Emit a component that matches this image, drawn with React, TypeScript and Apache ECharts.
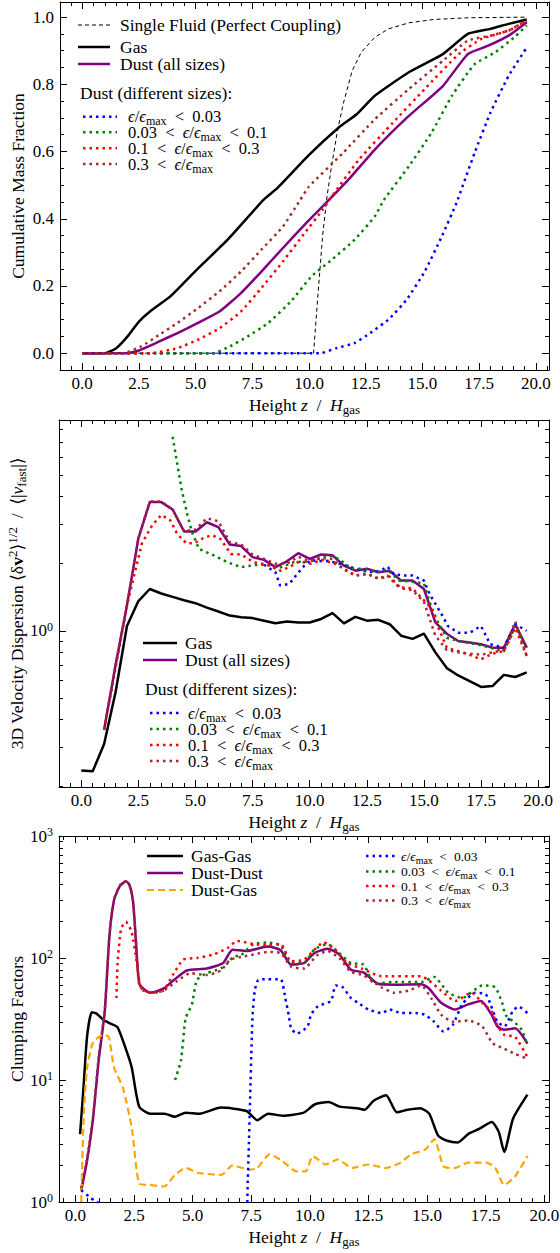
import React, { useEffect, useRef } from "react";
import * as echarts from "echarts";

const FONT = '"Liberation Serif", "DejaVu Serif", serif';
const BLACK = "#000000";
const PURPLE = "#800080";
const BLUE = "#0000ff";
const GREEN = "#008000";
const RED = "#ff0000";
const BROWN = "#a52a2a";
const ORANGE = "#ffa500";

type P = [number, number][];

// ---------------- Panel 1: cumulative mass fraction ----------------
const cumSingleFluid: P = [[0,0],[10.2,0],[10.4,0.18],[10.6,0.35],[10.8,0.47],[11.0,0.56],[11.25,0.66],[11.5,0.74],[11.9,0.84],[12.3,0.895],[12.9,0.94],[13.5,0.965],[14.4,0.983],[15.5,0.993],[17.0,0.998],[19.6,1.0]];
const cumGas: P = [[0,0],[1.0,0],[1.5,0.015],[2.0,0.05],[2.5,0.094],[3.0,0.125],[3.9,0.17],[5.0,0.245],[6.4,0.337],[8.0,0.457],[8.6,0.491],[10.0,0.59],[11.3,0.671],[12.1,0.711],[12.9,0.766],[14.4,0.836],[15.9,0.89],[17.0,0.95],[18.0,0.965],[18.8,0.98],[19.6,0.993]];
const cumDust: P = [[0,0],[2.0,0],[2.5,0.008],[3.4,0.035],[4.2,0.06],[5.1,0.09],[6.05,0.124],[7.0,0.179],[7.9,0.243],[8.85,0.313],[9.8,0.382],[10.6,0.437],[11.8,0.521],[12.9,0.606],[14.4,0.706],[15.9,0.795],[17.0,0.89],[17.9,0.915],[18.8,0.945],[19.6,0.985]];
const cumBlue: P = [[0,0],[10.5,0],[11.2,0.015],[12.0,0.03],[12.7,0.06],[13.5,0.1],[14.3,0.159],[15.1,0.243],[15.85,0.347],[16.5,0.447],[17.3,0.596],[18.0,0.716],[18.8,0.825],[19.6,0.91]];
const cumGreen: P = [[0,0],[5.8,0],[6.5,0.02],[7.3,0.05],[8.2,0.09],[9.2,0.154],[10.1,0.228],[11.0,0.278],[12.0,0.337],[12.9,0.407],[13.3,0.456],[14.4,0.556],[15.4,0.656],[16.3,0.766],[17.3,0.86],[18.2,0.895],[19.05,0.94],[19.6,0.975]];
const cumRed: P = [[0,0],[3.0,0],[4.2,0.015],[5.1,0.04],[6.05,0.074],[7.0,0.124],[7.9,0.194],[8.85,0.273],[9.8,0.357],[10.6,0.427],[11.0,0.466],[12.2,0.576],[13.7,0.686],[15.1,0.786],[16.6,0.89],[17.6,0.935],[18.8,0.96],[19.6,0.99]];
const cumBrown: P = [[0,0],[1.8,0],[2.6,0.02],[3.4,0.055],[4.2,0.09],[5.1,0.134],[6.05,0.184],[7.0,0.243],[7.9,0.308],[8.85,0.377],[9.6,0.455],[10.0,0.496],[11.5,0.596],[12.9,0.696],[14.4,0.786],[15.9,0.87],[17.0,0.93],[18.0,0.945],[18.8,0.96],[19.6,0.99]];

// ---------------- Panel 2: velocity dispersion ----------------
const velGas: P = [[0,0.236],[0.5,0.234],[1.0,0.31],[1.5,0.53],[2.0,1.05],[2.5,1.36],[3.0,1.54],[3.5,1.47],[4.0,1.42],[4.5,1.37],[5.0,1.33],[5.5,1.27],[6.0,1.22],[6.5,1.17],[7.0,1.15],[7.5,1.14],[8.0,1.11],[8.5,1.08],[9.0,1.10],[9.5,1.09],[10.0,1.09],[10.5,1.13],[11.0,1.20],[11.5,1.08],[12.0,1.155],[12.5,1.11],[13.0,1.12],[13.5,1.07],[14.0,0.95],[14.5,0.92],[15.0,0.97],[15.5,0.80],[16.0,0.68],[16.5,0.63],[17.0,0.595],[17.5,0.56],[18.0,0.565],[18.5,0.634],[19.0,0.62],[19.5,0.65]];
const velDust: P = [[1.0,0.36],[1.5,0.7],[2.0,1.3],[2.5,2.6],[3.0,3.78],[3.5,3.78],[4.0,3.5],[4.5,2.79],[5.0,2.79],[5.5,3.07],[6.0,2.92],[6.5,2.44],[7.0,2.40],[7.5,2.14],[8.0,2.08],[8.5,1.93],[9.0,2.05],[9.5,2.23],[10.0,2.1],[10.5,2.2],[11.0,2.18],[11.5,1.96],[12.0,1.86],[12.5,1.9],[13.0,1.83],[13.5,1.86],[14.0,1.68],[14.5,1.68],[15.0,1.54],[15.5,1.09],[16.0,0.97],[16.5,0.90],[17.0,0.885],[17.5,0.87],[18.0,0.84],[18.5,0.84],[19.0,1.07],[19.5,0.84]];
const velBlue: P = [[8.0,1.98],[8.5,1.83],[8.7,1.6],[9.1,1.62],[9.4,1.77],[9.7,1.93],[10.05,2.08],[10.35,2.05],[10.8,2.06],[11.3,2.0],[11.8,1.93],[12.3,1.86],[12.8,1.83],[13.1,1.86],[13.4,1.94],[13.7,1.79],[14.15,1.77],[14.5,1.77],[15.0,1.68],[15.25,1.46],[15.6,1.27],[15.85,1.15],[16.05,1.05],[16.5,0.98],[17.0,0.98],[17.5,1.05],[17.9,0.87],[18.5,0.84],[19.0,1.07],[19.5,1.0]];
const velGreen: P = [[4.0,7.43],[4.2,5.63],[4.4,4.27],[4.65,3.3],[4.85,2.77],[5.15,2.33],[5.8,2.18],[6.4,2.03],[7.0,1.93],[7.55,1.97],[8.15,1.98],[8.6,1.9],[8.75,1.93],[9.3,2.03],[10.05,2.05],[10.8,2.18],[11.3,2.1],[11.8,1.9],[12.3,1.9],[12.9,1.83],[13.4,1.88],[13.9,1.68],[14.5,1.66],[15.0,1.63],[15.3,1.3],[15.6,1.1],[16.0,0.93],[16.5,0.9],[17.5,0.86],[18.5,0.81],[19.0,1.05],[19.5,0.84]];
const velRed: P = [[1.0,0.36],[1.5,0.68],[2.0,1.3],[2.65,2.46],[3.1,2.97],[3.5,3.31],[3.9,3.13],[4.2,2.72],[4.6,2.47],[4.95,2.47],[5.4,2.63],[5.75,2.68],[6.1,2.58],[6.55,2.21],[7.0,2.2],[7.55,2.03],[8.15,1.98],[8.6,1.88],[8.75,1.86],[9.3,1.98],[9.55,2.05],[10.05,2.0],[10.55,2.08],[11.1,2.0],[11.5,1.9],[12.0,1.77],[12.55,1.8],[13.0,1.71],[13.4,1.77],[13.9,1.57],[14.5,1.55],[15.0,1.37],[15.3,1.27],[15.6,1.05],[16.0,0.84],[16.5,0.81],[17.0,0.78],[17.5,0.745],[18.0,0.79],[18.5,0.81],[19.0,1.03],[19.5,0.77]];
const velBrown: P = [[1.0,0.36],[1.5,0.7],[2.0,1.3],[2.5,2.6],[3.0,3.8],[3.5,3.8],[4.0,3.5],[4.5,2.8],[5.0,2.85],[5.5,3.2],[6.0,3.1],[6.5,2.5],[7.0,2.44],[7.5,2.2],[8.0,2.1],[8.5,2.0],[9.0,2.0],[9.5,2.15],[10.0,2.05],[10.5,2.12],[11.0,2.1],[11.5,1.88],[12.0,1.77],[12.5,1.8],[13.0,1.72],[13.5,1.75],[14.0,1.55],[14.5,1.52],[15.0,1.35],[15.5,0.95],[16.0,0.82],[16.5,0.8],[17.0,0.79],[17.5,0.78],[18.0,0.8],[18.5,0.82],[19.0,1.1],[19.5,0.77]];

// ---------------- Panel 3: clumping factors ----------------
const clumpGas: P = [[0.2,3.6],[0.35,9],[0.5,23],[0.7,36],[0.9,35],[1.2,31],[1.5,29],[1.8,27],[2.15,18],[2.4,12.7],[2.72,6.05],[3.18,5.3],[3.8,5.3],[4.25,5.0],[4.7,5.4],[5.3,5.3],[6.2,5.94],[7.3,5.57],[7.76,4.68],[8.22,5.3],[8.83,5.1],[9.74,5.4],[10.2,6.3],[10.8,6.6],[11.27,6.05],[12.03,5.87],[12.34,5.7],[12.72,6.76],[13.25,7.5],[13.71,5.43],[14.17,5.7],[14.7,5.87],[15.09,5.3],[15.47,3.5],[15.85,3.18],[16.31,3.08],[16.76,3.62],[17.22,3.98],[17.76,4.53],[18.06,3.74],[18.29,2.57],[18.67,4.84],[19.28,7.59]];
const clumpDust: P = [[0.25,1.25],[0.5,2.2],[0.75,4.8],[1.0,15],[1.25,36],[1.45,150],[1.65,300],[1.9,390],[2.15,425],[2.3,400],[2.45,300],[2.55,170],[2.65,85],[2.75,60],[3.2,52],[3.75,56],[4.2,66],[4.75,79],[5.6,82],[6.3,91],[6.7,117],[7.3,114],[8.2,124],[8.75,116],[9.2,88],[9.75,91],[10.2,110],[10.75,119],[11.25,107],[11.75,80],[12.3,76],[12.9,61.5],[13.6,60.5],[14.75,61],[15.05,57],[15.6,43],[16.2,37.8],[16.75,41.7],[17.3,44.5],[17.75,34.3],[18.0,27.5],[18.3,25.8],[18.75,26.5],[19.28,19.9]];
const clumpDustGas: P = [[0.25,1.0],[0.35,4.8],[0.5,12.6],[0.76,20.5],[1.19,23.4],[1.42,22.6],[1.65,12.6],[2.03,8.6],[2.41,4.0],[2.72,1.42],[3.18,1.38],[3.79,1.34],[4.25,1.67],[4.7,1.9],[5.24,1.73],[6.23,1.67],[6.69,1.99],[7.45,1.84],[7.76,1.9],[8.29,2.46],[8.83,2.16],[9.44,1.78],[9.82,1.78],[10.12,2.38],[10.35,2.23],[10.66,2.03],[11.19,2.23],[11.8,1.9],[12.49,2.03],[13.25,1.9],[13.86,2.1],[14.32,2.46],[14.93,2.7],[15.31,3.28],[15.7,1.96],[16.15,1.9],[16.76,2.1],[17.53,2.1],[17.91,1.9],[18.29,1.38],[18.75,1.62],[19.28,2.38]];
const clumpBlue: P = [[0.25,1.25],[0.6,1.1],[0.8,1.03],[1.0,0.97],[1.3,0.6],[7.2,0.6],[7.35,1.5],[7.55,32],[7.65,54],[7.8,66],[8.2,67],[8.75,67],[8.95,47],[9.1,34],[9.2,26.5],[9.45,24],[9.9,27.5],[10.05,34.3],[10.35,40.3],[10.9,44.5],[11.1,59.5],[11.4,57.6],[11.75,47],[12.05,43],[12.5,37.8],[13.05,35.4],[13.4,37.8],[13.9,35.4],[14.5,35.4],[14.9,34.3],[15.3,30],[15.7,25],[16.1,28.4],[16.5,41.7],[17.05,52],[17.5,50.5],[17.7,42],[18.0,30],[18.3,27.5],[18.65,36.6],[18.9,40],[19.28,35.4]];
const clumpGreen: P = [[4.25,10],[4.5,14.4],[4.7,32],[4.97,41.7],[5.18,66],[5.6,75],[6.2,82],[6.5,91],[6.75,103],[7.05,105],[7.6,130],[8.2,134],[8.75,127],[9.2,91],[9.75,91],[10.2,118],[10.75,130],[11.25,110],[11.75,91],[12.3,88],[12.75,61.5],[13.5,63.5],[14.75,63.5],[15.3,70],[15.9,52],[16.5,47],[17.35,59.5],[17.9,57.6],[18.2,43],[18.35,34],[18.75,29.5],[19.05,25.6],[19.28,19.3]];
const clumpRed: P = [[1.75,47],[1.8,91],[1.95,174],[2.15,198],[2.4,163],[2.6,97],[2.8,56],[3.2,52],[3.75,54],[4.2,75],[4.6,97],[5.2,100],[5.9,107],[6.5,121],[6.9,138],[7.6,130],[8.2,127],[8.75,130],[9.2,94],[9.75,97],[10.6,134],[11.05,118],[11.6,91],[12.2,82],[13.05,71],[14.75,71],[15.05,66],[15.6,54],[16.2,44.5],[16.9,52],[17.35,43],[17.75,36.6],[18.0,28],[18.3,23.4],[18.75,22.6],[19.28,15.4]];
const clumpBrown: P = [[0.25,1.3],[0.5,2.3],[0.75,5],[1.0,16],[1.25,37],[1.45,155],[1.65,305],[1.9,395],[2.15,425],[2.3,400],[2.45,300],[2.55,170],[2.65,85],[2.75,58],[3.2,52],[3.75,54],[4.3,64],[4.9,75],[5.6,72.6],[6.2,79],[6.6,96.6],[7.2,103],[7.6,107],[8.2,112],[8.75,110],[9.2,85],[9.75,82],[10.3,105],[10.75,114],[11.25,100],[11.75,77],[12.3,72],[13.05,57.6],[13.6,52],[14.2,54],[14.75,59.5],[15.2,46],[15.6,34.3],[16.15,30],[16.75,30.8],[17.35,27.5],[17.8,20],[18.3,18],[18.75,16.4],[19.28,14.9]];

// ---------------- Tick values ----------------
const xMajorTicks = [0, 2.5, 5, 7.5, 10, 12.5, 15, 17.5, 20];
const xMinorTicks = [-0.5,0.5,1,1.5,2,3,3.5,4,4.5,5.5,6,6.5,7,8,8.5,9,9.5,10.5,11,11.5,12,13,13.5,14,14.5,15.5,16,16.5,17,18,18.5,19,19.5,20.5];
const cumMajorTicks = [0, 0.2, 0.4, 0.6, 0.8, 1.0];
const cumMinorTicks = [0.05,0.1,0.15,0.25,0.3,0.35,0.45,0.5,0.55,0.65,0.7,0.75,0.85,0.9,0.95];
const velMajorTicks = [1];
const velMinorTicks = [0.2,0.3,0.4,0.5,0.6,0.7,0.8,0.9,2,3,4,5,6,7,8];
const clumpMajorTicks = [1, 10, 100, 1000];
const clumpMinorTicks = [2,3,4,5,6,7,8,9,20,30,40,50,60,70,80,90,200,300,400,500,600,700,800,900];

const DOT: number[] = [2.5, 4];
const TICK_SIZE = 17;
const NAME_SIZE = 17.5;
const LEG_SIZE = 17.5;

const richMath = (size: number) => ({
  i: { fontFamily: FONT, fontSize: size, fontStyle: "italic", color: BLACK, lineHeight: 22 },
  b: { fontFamily: FONT, fontSize: size, fontWeight: "bold", color: BLACK, lineHeight: 22 },
  sub: { fontFamily: FONT, fontSize: Math.round(size * 0.72), color: BLACK, lineHeight: 12, verticalAlign: "bottom" },
  sup: { fontFamily: FONT, fontSize: Math.round(size * 0.72), color: BLACK, lineHeight: 12, verticalAlign: "top" },
});

function makeAxes(
  g: number,
  xr: [number, number],
  yr: [number, number],
  yLog: boolean,
  yMajor: number[],
  yMinor: number[],
  yFmt: (v: number) => string,
  yName: string,
  yNameGap: number
) {
  const ln = { color: BLACK, width: 1 };
  const common = { gridIndex: g, splitLine: { show: false }, splitArea: { show: false } };
  const xBase = { ...common, type: "value", min: xr[0], max: xr[1] };
  const yBase = { ...common, type: yLog ? "log" : "value", min: yr[0], max: yr[1], logBase: 10 };
  const xs = [
    {
      ...xBase, position: "bottom",
      axisLine: { show: true, onZero: false, lineStyle: ln },
      axisTick: { show: true, inside: true, length: 7, customValues: xMajorTicks, lineStyle: ln },
      axisLabel: { show: true, customValues: xMajorTicks, formatter: (v: number) => v.toFixed(1), color: BLACK, fontFamily: FONT, fontSize: TICK_SIZE, margin: 5 },
      name: "Height {i|z}\u2002/\u2002{i|H}{sub|gas}", nameLocation: "middle", nameGap: 24, nameMoveOverlap: false,
      nameTextStyle: { fontFamily: FONT, fontSize: NAME_SIZE, color: BLACK, lineHeight: 22, rich: richMath(NAME_SIZE) },
    },
    { ...xBase, position: "bottom", axisLine: { show: false, onZero: false }, axisTick: { show: true, inside: true, length: 4, customValues: xMinorTicks, lineStyle: ln }, axisLabel: { show: false } },
    { ...xBase, position: "top", axisLine: { show: true, onZero: false, lineStyle: ln }, axisTick: { show: true, inside: true, length: 7, customValues: xMajorTicks, lineStyle: ln }, axisLabel: { show: false } },
    { ...xBase, position: "top", axisLine: { show: false, onZero: false }, axisTick: { show: true, inside: true, length: 4, customValues: xMinorTicks, lineStyle: ln }, axisLabel: { show: false } },
  ];
  const ys = [
    {
      ...yBase, position: "left",
      axisLine: { show: true, onZero: false, lineStyle: ln },
      axisTick: { show: true, inside: true, length: 7, customValues: yMajor, lineStyle: ln },
      axisLabel: {
        show: true, customValues: yMajor, formatter: yFmt, color: BLACK, fontFamily: FONT, fontSize: TICK_SIZE, margin: 6, lineHeight: 20,
        rich: { s: { fontFamily: FONT, fontSize: 12, color: BLACK, lineHeight: 12, verticalAlign: "top" } },
      },
      name: yName, nameLocation: "middle", nameRotate: 90, nameGap: yNameGap, nameMoveOverlap: false,
      nameTextStyle: { fontFamily: FONT, fontSize: NAME_SIZE, color: BLACK, lineHeight: 22, rich: richMath(NAME_SIZE) },
    },
    { ...yBase, position: "left", axisLine: { show: false, onZero: false }, axisTick: { show: true, inside: true, length: 4, customValues: yMinor, lineStyle: ln }, axisLabel: { show: false } },
    { ...yBase, position: "right", axisLine: { show: true, onZero: false, lineStyle: ln }, axisTick: { show: true, inside: true, length: 7, customValues: yMajor, lineStyle: ln }, axisLabel: { show: false } },
    { ...yBase, position: "right", axisLine: { show: false, onZero: false }, axisTick: { show: true, inside: true, length: 4, customValues: yMinor, lineStyle: ln }, axisLabel: { show: false } },
  ];
  return { xs, ys };
}

function ser(name: string, data: P, color: string, width: number, type: any, g: number, smooth: number | boolean, z = 2) {
  return {
    type: "line", name, data, xAxisIndex: 4 * g, yAxisIndex: 4 * g,
    showSymbol: false, symbol: "none", smooth, clip: true,
    lineStyle: { color, width, type, cap: "butt", join: "round" },
    itemStyle: { color }, emphasis: { disabled: true }, silent: true, z,
  };
}

function legLine(x1: number, x2: number, y: number, stroke: string, lineWidth: number, dash?: number[]) {
  return { type: "line", silent: true, z: 100, shape: { x1, y1: y, x2, y2: y }, style: { stroke, lineWidth, lineDash: dash || null, lineCap: "butt" } };
}
function legText(x: number, y: number, text: string, size = LEG_SIZE) {
  const lh = Math.round(size + 4);
  const sub = Math.round(size * 0.75);
  return {
    type: "text", silent: true, z: 100, x, y,
    style: {
      text, fill: BLACK, fontFamily: FONT, fontSize: size, lineHeight: lh, align: "left", verticalAlign: "middle",
      rich: {
        i: { fontFamily: FONT, fontSize: size, fontStyle: "italic", fill: BLACK, lineHeight: lh },
        sub: { fontFamily: FONT, fontSize: sub, fill: BLACK, lineHeight: sub, verticalAlign: "bottom" },
      },
    },
  };
}

const SP = "\u2002";
const epsLabels = [
  `{i|ϵ}/{i|ϵ}{sub|max}${SP}<${SP}0.03`,
  `0.03${SP}<${SP}{i|ϵ}/{i|ϵ}{sub|max}${SP}<${SP}0.1`,
  `0.1${SP}<${SP}{i|ϵ}/{i|ϵ}{sub|max}${SP}<${SP}0.3`,
  `0.3${SP}<${SP}{i|ϵ}/{i|ϵ}{sub|max}`,
];
const epsColors = [BLUE, GREEN, RED, BROWN];

function buildOption() {
  const a1 = makeAxes(0, [-0.98, 20.58], [-0.05, 1.045], false, cumMajorTicks, cumMinorTicks, (v) => v.toFixed(1), "Cumulative Mass Fraction", 31);
  const a2 = makeAxes(1, [-0.975, 20.475], [0.199, 8.83], true, velMajorTicks, velMinorTicks, (v) => "10{s|" + Math.round(Math.log10(v)) + "}",
    "3D Velocity Dispersion ⟨δ{b|v}{sup|2}⟩{sup|1/2}\u2002/\u2002⟨|{i|v}{sub|fast}|⟩", 31);
  const a3 = makeAxes(2, [-0.7, 20.2], [1, 1000], true, clumpMajorTicks, clumpMinorTicks, (v) => "10{s|" + Math.round(Math.log10(v)) + "}", "Clumping Factors", 31);

  const series = [
    ser("Single Fluid (Perfect Coupling)", cumSingleFluid, BLACK, 1, [4, 3], 0, false, 3),
    ser("Gas", cumGas, BLACK, 2.5, "solid", 0, 0.15, 4),
    ser("Dust (all sizes)", cumDust, PURPLE, 2.5, "solid", 0, 0.15, 4),
    ser("blue", cumBlue, BLUE, 2.5, DOT, 0, 0.15, 5),
    ser("green", cumGreen, GREEN, 2.5, DOT, 0, 0.15, 5),
    ser("red", cumRed, RED, 2.5, DOT, 0, 0.15, 5),
    ser("brown", cumBrown, BROWN, 2.5, DOT, 0, 0.15, 5),

    ser("Gas", velGas, BLACK, 2.5, "solid", 1, false, 4),
    ser("Dust (all sizes)", velDust, PURPLE, 2.5, "solid", 1, false, 4),
    ser("blue", velBlue, BLUE, 2.5, DOT, 1, false, 5),
    ser("green", velGreen, GREEN, 2.5, DOT, 1, false, 5),
    ser("red", velRed, RED, 2.5, DOT, 1, false, 5),
    ser("brown", velBrown, BROWN, 2.5, DOT, 1, false, 5),

    ser("Gas-Gas", clumpGas, BLACK, 2.5, "solid", 2, 0.2, 4),
    ser("Dust-Dust", clumpDust, PURPLE, 2.5, "solid", 2, 0.2, 4),
    ser("Dust-Gas", clumpDustGas, ORANGE, 2.2, [7, 4], 2, 0.2, 4),
    ser("blue", clumpBlue, BLUE, 2.5, DOT, 2, 0.2, 5),
    ser("green", clumpGreen, GREEN, 2.5, DOT, 2, 0.2, 5),
    ser("red", clumpRed, RED, 2.5, DOT, 2, 0.2, 5),
    ser("brown", clumpBrown, BROWN, 2.5, DOT, 2, 0.2, 5),
  ];

  const els: any[] = [];
  // Panel 1 legend
  els.push(legLine(78, 110, 25, BLACK, 1, [4, 3]), legText(120, 25, "Single Fluid (Perfect Coupling)"));
  els.push(legLine(78, 110, 47, BLACK, 2.5), legText(120, 47, "Gas"));
  els.push(legLine(78, 110, 64, PURPLE, 2.5), legText(120, 64, "Dust (all sizes)"));
  els.push(legText(80, 93, "Dust (different sizes):"));
  [116.7, 132.3, 148.3, 164].forEach((y, k) => {
    els.push(legLine(83, 117, y, epsColors[k], 2.5, DOT), legText(128, y, epsLabels[k], 16.5));
  });
  // Panel 2 legend
  els.push(legLine(143, 177, 643, BLACK, 2.5), legText(185, 643, "Gas"));
  els.push(legLine(143, 177, 660, PURPLE, 2.5), legText(185, 660, "Dust (all sizes)"));
  els.push(legText(145, 689, "Dust (different sizes):"));
  [713, 729, 745, 761].forEach((y, k) => {
    els.push(legLine(150, 182, y, epsColors[k], 2.5, DOT), legText(188, y, epsLabels[k], 16.5));
  });
  // Panel 3 legends
  els.push(legLine(147, 183, 856, BLACK, 2.5), legText(191, 856, "Gas-Gas"));
  els.push(legLine(147, 183, 873, PURPLE, 2.5), legText(191, 873, "Dust-Dust"));
  els.push(legLine(147, 183, 890, ORANGE, 2.2, [7, 4]), legText(191, 890, "Dust-Gas"));
  [856, 871.5, 886, 900.5].forEach((y, k) => {
    els.push(legLine(366, 397, y, epsColors[k], 2.5, DOT), legText(401, y, epsLabels[k], 13.5));
  });

  return {
    animation: false,
    backgroundColor: "#ffffff",
    textStyle: { fontFamily: FONT },
    grid: [
      { left: 60, top: 2, width: 489, height: 368, outerBoundsMode: "none", containLabel: false },
      { left: 59, top: 420, width: 490, height: 367, outerBoundsMode: "none", containLabel: false },
      { left: 59, top: 836, width: 490, height: 366, outerBoundsMode: "none", containLabel: false },
    ],
    xAxis: [...a1.xs, ...a2.xs, ...a3.xs],
    yAxis: [...a1.ys, ...a2.ys, ...a3.ys],
    series,
    graphic: { elements: els },
  };
}

export default function App() {
  const ref = useRef<HTMLDivElement>(null);
  useEffect(() => {
    document.body.style.margin = "0";
    const chart = echarts.init(ref.current as HTMLDivElement, null, { renderer: "svg", width: 560, height: 1253 });
    chart.setOption(buildOption() as any);
    return () => chart.dispose();
  }, []);
  return <div ref={ref} style={{ width: 560, height: 1253, background: "#fff" }} />;
}
